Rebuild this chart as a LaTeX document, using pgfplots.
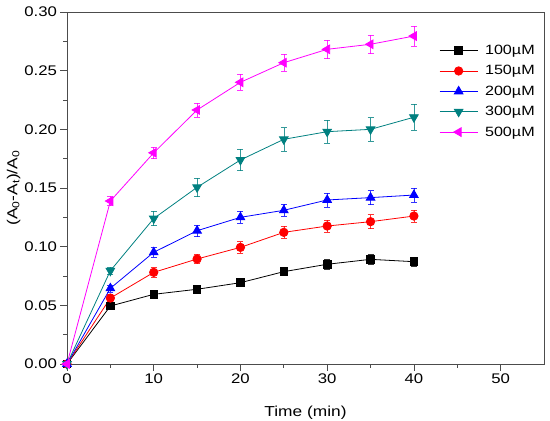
\documentclass[border=0pt]{standalone}
\usepackage{fontspec}
\setmainfont{Liberation Sans}[FakeStretch=1.2]
\usepackage{pgfplots}
\pgfplotsset{compat=1.18}
\definecolor{cteal}{RGB}{0,128,128}
\definecolor{cmag}{RGB}{255,0,255}
\begin{document}
\begin{tikzpicture}
\useasboundingbox (-67bp,-57bp) rectangle (483bp,364bp);
\begin{axis}[
  at={(0,0)}, anchor=south west,
  scale only axis, width=477bp, height=352bp,
  xmin=0, xmax=55, ymin=0, ymax=0.30,
  xtick={0,10,...,50}, minor x tick num=1,
  ytick={0,0.05,...,0.31}, minor y tick num=1,
  tick align=outside, xtick pos=left, ytick pos=left,
  major tick length=6.5bp, minor tick length=3.5bp,
  axis line style={draw=black!70, line width=0.9pt},
  every tick/.style={black!70, line width=0.8pt},
  /pgf/number format/assume math mode=true,
  tick label style={font=\fontsize{14}{16}\selectfont},
  yticklabel style={/pgf/number format/.cd, fixed, fixed zerofill, precision=2},
  xlabel={Time (min)},
  ylabel={(A\textsubscript{0}-A\textsubscript{t})/A\textsubscript{0}},
  label style={font=\fontsize{14.5}{17}\selectfont},
  xlabel style={at={(axis description cs:0.5,-0.148)}, anchor=base},
  ylabel style={at={(axis description cs:-0.112,0.5)}, anchor=center},
  legend style={at={(rel axis cs:0.78,0.912)}, anchor=north west, draw=none, fill=none,
    font=\fontsize{13.5}{15}\selectfont, row sep=5.5bp, inner sep=0pt,
    /tikz/every odd column/.append style={column sep=5bp}},
  legend cell align=left,
  legend image code/.code={\draw[mark repeat=2,mark phase=2] plot coordinates {(0bp,0bp) (19bp,0bp) (38bp,0bp)};},
  every axis plot/.append style={line width=0.8pt},
  error bars/y dir=both, error bars/y explicit,
  error bars/error bar style={line width=0.6pt, opacity=0.8},
  error bars/error mark options={rotate=90, mark size=3bp, line width=0.6pt},
]
\addplot[black, mark=square*, mark size=3.8bp, mark options={solid}] coordinates {
 (0,0) +- (0,0)
 (5,0.0494) +- (0,0.003)
 (10,0.0594) +- (0,0.003)
 (15,0.0637) +- (0,0.003)
 (20,0.0693) +- (0,0.003)
 (25,0.0787) +- (0,0.003)
 (30,0.0850) +- (0,0.004)
 (35,0.0892) +- (0,0.004)
 (40,0.0872) +- (0,0.004)
};
\addlegendentry{100µM}
\addplot[red, mark=*, mark size=4.2bp] coordinates {
 (0,0) +- (0,0)
 (5,0.0562) +- (0,0.003)
 (10,0.0781) +- (0,0.004)
 (15,0.0895) +- (0,0.004)
 (20,0.0994) +- (0,0.005)
 (25,0.1122) +- (0,0.005)
 (30,0.1176) +- (0,0.005)
 (35,0.1213) +- (0,0.006)
 (40,0.1261) +- (0,0.005)
};
\addlegendentry{150µM}
\addplot[blue, mark=triangle*, mark size=5bp] coordinates {
 (0,0) +- (0,0)
 (5,0.0645) +- (0,0.003)
 (10,0.0952) +- (0,0.004)
 (15,0.1136) +- (0,0.005)
 (20,0.1250) +- (0,0.005)
 (25,0.1310) +- (0,0.005)
 (30,0.1398) +- (0,0.006)
 (35,0.1418) +- (0,0.006)
 (40,0.1440) +- (0,0.006)
};
\addlegendentry{200µM}
\addplot[cteal, mark=triangle*, mark size=5bp, mark options={rotate=180}] coordinates {
 (0,0) +- (0,0)
 (5,0.0795) +- (0,0.003)
 (10,0.1240) +- (0,0.006)
 (15,0.1506) +- (0,0.008)
 (20,0.1739) +- (0,0.009)
 (25,0.1915) +- (0,0.010)
 (30,0.1980) +- (0,0.010)
 (35,0.2000) +- (0,0.010)
 (40,0.2103) +- (0,0.011)
};
\addlegendentry{300µM}
\addplot[cmag, mark=triangle*, mark size=5bp, mark options={rotate=90}] coordinates {
 (0,0) +- (0,0)
 (5,0.1389) +- (0,0.004)
 (10,0.1800) +- (0,0.005)
 (15,0.2165) +- (0,0.006)
 (20,0.2401) +- (0,0.007)
 (25,0.2568) +- (0,0.007)
 (30,0.2682) +- (0,0.008)
 (35,0.2725) +- (0,0.008)
 (40,0.2795) +- (0,0.0085)
};
\addlegendentry{500µM}
\end{axis}
\end{tikzpicture}
\end{document}
